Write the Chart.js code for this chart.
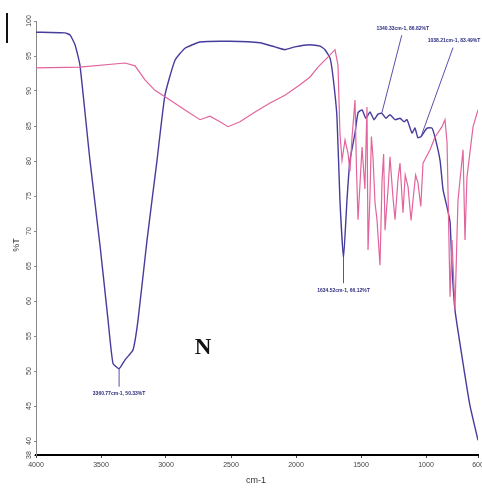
<!DOCTYPE html>
<html>
<head>
<meta charset="utf-8">
<script src="https://cdn.jsdelivr.net/npm/chart.js@4/dist/chart.umd.min.js"></script>
<style>
  body { margin: 0; background: #fff; }
  #wrap { width: 482px; height: 489px; }
</style>
</head>
<body>
<div id="wrap"><canvas id="grafico" width="482" height="489"></canvas></div>
<script>
// FTIR spectrum, wavenumber (cm-1) vs %T
const xTicks = [4000, 3500, 3000, 2500, 2000, 1500, 1000, 600];
const yTicks = [38, 40, 45, 50, 55, 60, 65, 70, 75, 80, 85, 90, 95, 100];

// blue (sample N)
const blueWave = [4000, 3777, 3738, 3700, 3662, 3585, 3508, 3446, 3408, 3360.77, 3315, 3254, 3215, 3146, 3069, 3008, 2931, 2854, 2738, 2508, 2277, 2162, 2085, 2008, 1892, 1815, 1777, 1738, 1715, 1685, 1662, 1634.52, 1608, 1585, 1546, 1523, 1492, 1462, 1431, 1400, 1369, 1340.33, 1308, 1277, 1238, 1200, 1169, 1146, 1108, 1085, 1062, 1038.21, 992, 954, 931, 892, 869, 838, 815, 800, 777, 715, 662, 600];
const blueT = [98.4, 98.3, 98.0, 96.6, 93.7, 80.1, 68.0, 57.3, 51.1, 50.33, 51.6, 53.0, 57.3, 68.7, 80.1, 89.4, 94.4, 96.1, 97.0, 97.1, 96.9, 96.3, 95.9, 96.3, 96.6, 96.4, 95.9, 94.7, 92.0, 86.3, 74.4, 66.12, 74.4, 80.1, 84.0, 86.9, 87.3, 86.1, 87.0, 85.9, 86.7, 86.82, 86.1, 86.6, 85.9, 86.1, 85.6, 85.9, 84.0, 84.7, 83.3, 83.49, 84.7, 84.7, 83.4, 80.1, 75.9, 73.4, 71.3, 64.9, 58.7, 51.1, 45.1, 40.1];

// pink (reference)
const pinkWave = [4000, 3662, 3315, 3238, 3162, 3085, 2969, 2854, 2738, 2662, 2585, 2523, 2431, 2315, 2200, 2085, 1969, 1892, 1831, 1762, 1700, 1677, 1662, 1646, 1623, 1600, 1585, 1569, 1546, 1535, 1523, 1492, 1470, 1454, 1446, 1431, 1420, 1408, 1392, 1377, 1354, 1338, 1326, 1315, 1290, 1277, 1255, 1238, 1215, 1200, 1177, 1160, 1138, 1115, 1100, 1080, 1062, 1040, 1023, 969, 931, 877, 854, 838, 815, 800, 777, 754, 715, 700, 685, 638, 600];
const pinkT = [93.3, 93.4, 94.0, 93.6, 91.6, 90.1, 88.7, 87.3, 85.9, 86.4, 85.6, 84.9, 85.6, 87.0, 88.3, 89.4, 90.9, 92.0, 93.4, 94.7, 95.9, 93.7, 84.0, 80.1, 83.0, 81.1, 78.5, 83.4, 88.7, 79.0, 71.6, 82.0, 76.0, 87.7, 67.3, 74.9, 83.5, 80.6, 74.0, 71.6, 65.1, 77.3, 81.0, 70.1, 76.5, 80.6, 75.0, 71.6, 77.5, 79.7, 72.6, 78.0, 76.3, 71.5, 74.4, 78.0, 76.9, 73.5, 79.7, 81.6, 83.4, 84.9, 85.9, 82.6, 60.6, 68.7, 58.7, 74.4, 81.6, 68.7, 77.7, 84.9, 87.3];

// labelled peaks
const peakWave = [3360.77, 1634.52, 1340.33, 1038.21];
const peakT = [50.33, 66.12, 86.82, 83.49];
const peakText = ['3360.77cm-1, 50.33%T', '1634.52cm-1, 66.12%T', '1340.33cm-1, 86.82%T', '1038.21cm-1, 83.49%T'];

const puntos = (w, t) => w.map((v, i) => ({ x: v, y: t[i] }));

const narrow = "'Liberation Sans Narrow', 'Liberation Sans', Arial, sans-serif";

const extras = {
  id: 'extras',
  afterDraw(chart) {
    const ctx = chart.ctx;
    const xs = chart.scales.x;
    const ys = chart.scales.y;
    ctx.save();

    // y tick labels, rotated
    ctx.fillStyle = '#444';
    ctx.font = '7px ' + narrow;
    ctx.textAlign = 'center';
    ctx.textBaseline = 'middle';
    yTicks.forEach(v => {
      ctx.save();
      ctx.translate(29, ys.getPixelForValue(v));
      ctx.rotate(-Math.PI / 2);
      ctx.fillText(String(v), 0, 0);
      ctx.restore();
    });

    // axis titles
    ctx.fillStyle = '#333';
    ctx.font = '9px ' + narrow;
    ctx.save();
    ctx.translate(17, 245);
    ctx.rotate(-Math.PI / 2);
    ctx.fillText('%T', 0, 0);
    ctx.restore();
    ctx.fillText('cm-1', 256, 481);

    // peak annotations
    const offs = [
      { lx: 0, ly: 18, tx: 0, ty: 25 },
      { lx: 0, ly: 25, tx: 0, ty: 32 },
      { lx: 20, ly: -78, tx: 21, ty: -85 },
      { lx: 32, ly: -89, tx: 33, ty: -96 }
    ];
    ctx.strokeStyle = '#5a50a8';
    ctx.lineWidth = 1;
    ctx.fillStyle = '#2b2b80';
    ctx.font = 'bold 5px ' + narrow;
    peakWave.forEach((w, i) => {
      const px = xs.getPixelForValue(w);
      const py = ys.getPixelForValue(peakT[i]);
      const o = offs[i];
      ctx.beginPath();
      ctx.moveTo(px, py);
      ctx.lineTo(px + o.lx, py + o.ly);
      ctx.stroke();
      ctx.fillText(peakText[i], px + o.tx, py + o.ty);
    });

    // sample letter
    ctx.fillStyle = '#111';
    ctx.font = "bold 23px 'Liberation Serif', 'DejaVu Serif', serif";
    ctx.fillText('N', 203, 348);

    // marker bar top left
    ctx.strokeStyle = '#111';
    ctx.lineWidth = 2;
    ctx.beginPath();
    ctx.moveTo(7, 13);
    ctx.lineTo(7, 43);
    ctx.stroke();

    ctx.restore();
  }
};

new Chart(document.getElementById('grafico'), {
  type: 'line',
  data: {
    datasets: [
      {
        label: 'N',
        data: puntos(pinkWave, pinkT),
        borderColor: '#e2649c',
        borderWidth: 1.2,
        pointRadius: 0,
        tension: 0
      },
      {
        label: 'ref',
        data: puntos(blueWave, blueT),
        borderColor: '#463c9c',
        borderWidth: 1.4,
        pointRadius: 0,
        tension: 0.15
      }
    ]
  },
  options: {
    responsive: false,
    devicePixelRatio: 1,
    animation: false,
    layout: { padding: { top: 21, right: 4, left: 0, bottom: 0 } },
    plugins: {
      legend: { display: false },
      tooltip: { enabled: false }
    },
    scales: {
      x: {
        type: 'linear',
        reverse: true,
        min: 600,
        max: 4000,
        afterBuildTicks: s => { s.ticks = xTicks.map(v => ({ value: v })); },
        afterFit: s => { s.height = 34; s.paddingLeft = 0; s.paddingRight = 0; },
        grid: { drawOnChartArea: false, drawTicks: true, tickLength: 3, color: '#444' },
        border: { color: '#000', width: 2 },
        ticks: {
          color: '#444',
          font: { size: 7, family: narrow },
          padding: 3,
          maxRotation: 0,
          autoSkip: false,
          callback: v => String(v)
        }
      },
      y: {
        min: 38,
        max: 100,
        afterBuildTicks: s => { s.ticks = yTicks.map(v => ({ value: v })); },
        afterFit: s => { s.width = 36; s.paddingTop = 0; s.paddingBottom = 0; },
        grid: { drawOnChartArea: false, drawTicks: true, tickLength: 2, color: '#888' },
        border: { color: '#888', width: 1 },
        ticks: { display: false }
      }
    }
  },
  plugins: [extras]
});
</script>
</body>
</html>
